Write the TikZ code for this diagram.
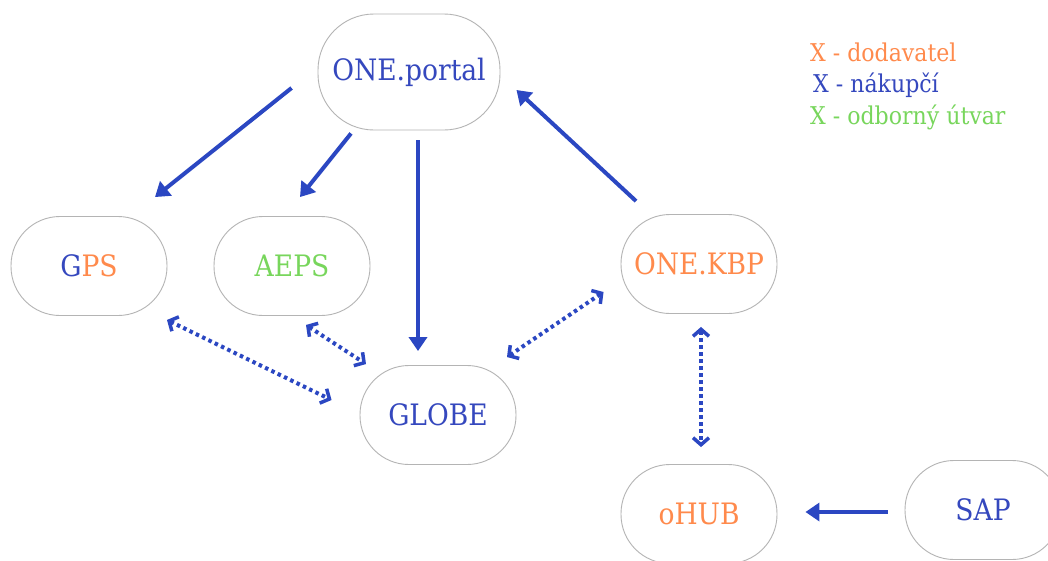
\documentclass[tikz,border=0pt]{standalone}
\usepackage{fontspec}
\setmainfont{DejaVu Serif Condensed}
\usetikzlibrary{arrows.meta,calc}
\definecolor{cblue}{HTML}{2B47C2}
\definecolor{tblue}{HTML}{3548BE}
\definecolor{corange}{HTML}{FF8A4C}
\definecolor{cgreen}{HTML}{78D65C}
\definecolor{cborder}{HTML}{B4B4B4}
\tikzset{
  sysbox/.style={draw=cborder, line width=0.9pt, rounded corners=49pt,
    minimum width=156pt, minimum height=99pt, inner sep=0pt,
    font=\fontsize{29.5}{34}\selectfont},
  solidarrow/.style={draw=cblue, line width=4pt, -{Triangle[length=14pt,width=18pt]}},
  dotarrow/.style={draw=cblue, line width=4pt, dash pattern=on 3.5pt off 3.5pt,
    {Straight Barb[length=7pt,width=16pt,line width=3.5pt]}-{Straight Barb[length=7pt,width=16pt,line width=3.5pt]}},
  legend/.style={anchor=west, inner sep=0pt, font=\fontsize{24.5}{28}\selectfont}
}
\begin{document}
\begin{tikzpicture}[x=1pt,y=-1pt]
\clip (0,0) rectangle (1048,560);
\fill[white] (0,0) rectangle (1048,560);

\node[sysbox, minimum width=182pt, minimum height=116pt, rounded corners=56pt, text=tblue] (portal) at (409,72) {ONE.portal};
\node[sysbox] (gps) at (89,266) {\textcolor{tblue}{G}\textcolor{corange}{PS}};
\node[sysbox, text=cgreen] (aeps) at (292,266) {AEPS};
\node[sysbox, text=corange] (kbp) at (699,264) {ONE.KBP};
\node[sysbox, text=tblue] (globe) at (438,415) {GLOBE};
\node[sysbox, text=corange] (ohub) at (699,514) {oHUB};
\node[sysbox, text=tblue] (sap) at (983,510) {SAP};

\node[legend, text=corange] (l1) at (810,52) {X - dodavatel};
\node[legend, text=tblue] (l2) at (813,85) {X - nákupčí};
\node[legend, text=cgreen] (l3) at (810,117) {X - odborný útvar};

\draw[solidarrow] ($(portal.west)+(-26,16)$) -- ($(gps.north)+(66,-19)$);
\draw[solidarrow] ($(portal.south)+(-58,3)$) -- ($(aeps.north)+(8,-19)$);
\draw[solidarrow] ($(portal.south)+(9,10)$) -- ($(globe.north)+(-20,-14)$);
\draw[solidarrow] ($(kbp.north)+(-63,-13)$) -- ($(portal.east)+(16,18)$);
\draw[solidarrow] ($(sap.west)+(-17,2)$) -- ($(ohub.east)+(28,-2)$);

\draw[dotarrow] ($(gps.south)+(78,4)$) -- ($(globe.west)+(-28,-15)$);
\draw[dotarrow] ($(aeps.south)+(14,9)$) -- ($(globe.north)+(-72,-1)$);
\draw[dotarrow] ($(kbp.west)+(-17,28)$) -- ($(globe.north)+(69,-8)$);
\draw[dotarrow] ($(kbp.south)+(2,13)$) -- ($(ohub.north)+(2,-17)$);
\end{tikzpicture}
\end{document}
